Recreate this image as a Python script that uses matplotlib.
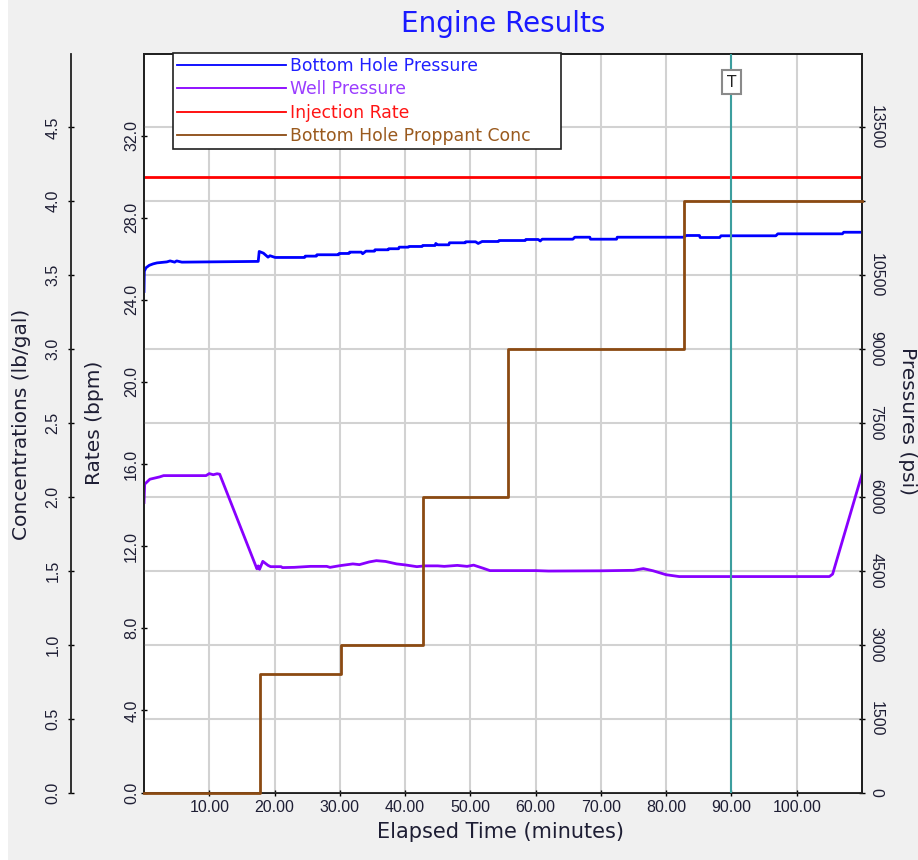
import matplotlib
matplotlib.use("Agg")
import matplotlib.pyplot as plt
from matplotlib.lines import Line2D
from matplotlib.patches import Rectangle

# ---- data -------------------------------------------------------------
# Bottom hole pressure (psi) vs elapsed time (min)
bhp_time = [0.0, 0.05, 0.3, 0.8, 1.4, 2.0, 3.5, 4.0, 4.7, 5.0, 5.8, 17.5, 17.65,
            18.3, 19.0, 19.3, 20.1, 24.6, 24.7, 26.4, 26.5, 29.8, 29.9, 31.4,
            31.5, 33.3, 33.5, 34.0, 35.3, 35.4, 37.4, 37.5, 39.0, 39.1, 40.5,
            40.6, 42.6, 42.7, 44.6, 44.7, 45.0, 46.7, 46.8, 49.2, 49.3, 50.8,
            51.2, 51.8, 54.3, 54.4, 58.4, 58.5, 60.4, 60.7, 61.0, 65.7, 66.0,
            68.3, 68.4, 72.4, 72.5, 82.6, 83.1, 85.1, 85.2, 88.2, 88.4, 96.8,
            97.1, 107.0, 107.2, 110.0]
bhp_psi = [10170, 10580, 10650, 10700, 10730, 10750, 10770, 10790, 10765, 10790,
           10765, 10780, 10982, 10947, 10866, 10895, 10860, 10860, 10887, 10887,
           10915, 10915, 10941, 10941, 10968, 10968, 10935, 10988, 10988, 11016,
           11016, 11037, 11037, 11069, 11069, 11083, 11083, 11103, 11103, 11144,
           11117, 11117, 11158, 11158, 11178, 11178, 11144, 11184, 11184, 11204,
           11204, 11225, 11225, 11194, 11231, 11231, 11271, 11271, 11231, 11231,
           11271, 11271, 11306, 11306, 11265, 11265, 11300, 11300, 11340, 11340,
           11372, 11372]

# Well (surface) pressure (psi)
wp_time = [0.0, 0.1, 0.9, 2.4, 3.0, 9.5, 10.0, 10.6, 11.2, 11.6, 17.3, 17.5, 17.7,
           18.2, 19.0, 19.4, 21.0, 21.2, 23.0, 25.5, 28.0, 28.5, 30.0, 32.0, 33.0,
           34.5, 35.6, 37.0, 38.7, 40.0, 41.8, 43.0, 45.0, 46.0, 48.0, 49.5, 50.5,
           52.0, 53.0, 60.0, 62.0, 70.0, 75.0, 76.5, 78.0, 80.0, 82.0, 105.0,
           105.5, 110.0]
wp_psi = [5886, 6258, 6359, 6406, 6432, 6432, 6473, 6450, 6470, 6460, 4540, 4600,
          4530, 4692, 4610, 4584, 4584, 4565, 4570, 4590, 4590, 4570, 4604, 4640,
          4625, 4680, 4706, 4690, 4640, 4620, 4584, 4600, 4600, 4590, 4610, 4590,
          4615, 4550, 4504, 4504, 4495, 4500, 4510, 4545, 4500, 4420, 4383, 4383,
          4433, 6462]

# Injection rate (bpm)
rate_time = [0.0, 110.0]
rate_bpm = [30.0, 30.0]

# Bottom hole proppant concentration stages (lb/gal), step-post
stage_start = [0.0, 17.7, 30.2, 42.7, 55.7, 82.7, 110.0]
stage_conc = [0.0, 0.8, 1.0, 2.0, 3.0, 4.0, 4.0]

marker_time = 90.0

x_ticks = [10, 20, 30, 40, 50, 60, 70, 80, 90, 100]
rate_ticks = [0, 4, 8, 12, 16, 20, 24, 28, 32]
conc_ticks = [0.0, 0.5, 1.0, 1.5, 2.0, 2.5, 3.0, 3.5, 4.0, 4.5]
psi_ticks = [0, 1500, 3000, 4500, 6000, 7500, 9000, 10500, 12000, 13500]
psi_labels = ["0", "1500", "3000", "4500", "6000", "7500", "9000", "10500", "", "13500"]

# ---- styling ----------------------------------------------------------
W, H = 918, 860
BG = "#f0f0f0"
TXT = "#1e1e34"
TICK_FONT = "Liberation Sans"
LABEL_FONT = "DejaVu Sans"

c_bhp = "#0000ff"
c_wp = "#8800ff"
c_rate = "#ff0000"
c_conc = "#8b4a12"
c_mark = "#3c9e9e"

fig = plt.figure(figsize=(W / 100, H / 100), dpi=100, facecolor=BG)
fig.patches.append(Rectangle((0, 0), 8 / W, 1, transform=fig.transFigure,
                             facecolor="white", edgecolor="none", zorder=-1))

left_px, right_px, top_px, bottom_px = 144, 862, 53.5, 792.5
rect = [left_px / W, 1 - bottom_px / H, (right_px - left_px) / W,
        (bottom_px - top_px) / H]

ax_rate = fig.add_axes(rect)
ax_rate.set_facecolor("white")
ax_psi = ax_rate.twinx()
ax_conc = ax_rate.twinx()
for a in (ax_psi, ax_conc):
    a.patch.set_visible(False)

# x axis
ax_rate.set_xlim(0, 110)
ax_rate.set_xticks(x_ticks)
ax_rate.set_xticklabels([f"{v:.2f}" for v in x_ticks], fontfamily=TICK_FONT,
                        fontsize=11.5, color=TXT)
ax_rate.tick_params(axis="x", direction="inout", length=5, width=1, pad=3)
ax_rate.grid(axis="x", color="#d2d2d2", linewidth=1.5)
ax_rate.set_axisbelow(True)

# rate axis (inner left)
ax_rate.set_ylim(0, 36)
ax_rate.set_yticks(rate_ticks)
ax_rate.set_yticklabels([f"{v:.1f}" for v in rate_ticks], fontfamily=TICK_FONT,
                        fontsize=11.5, color=TXT, rotation=90, va="center")
ax_rate.tick_params(axis="y", direction="inout", length=5, width=1, pad=1)

# pressure axis (right)
ax_psi.set_ylim(0, 15000)
ax_psi.set_yticks(psi_ticks)
ax_psi.set_yticklabels(psi_labels, fontfamily=TICK_FONT, fontsize=11.5,
                       color=TXT, rotation=-90, va="center")
ax_psi.tick_params(axis="y", direction="inout", length=5, width=1, pad=2)
ax_psi.grid(axis="y", color="#d2d2d2", linewidth=1.5)
ax_psi.set_axisbelow(True)

# concentration axis (outer left)
ax_conc.set_ylim(0, 5)
ax_conc.spines["left"].set_position(("outward", 73 * 0.72))
ax_conc.spines["left"].set_visible(True)
ax_conc.yaxis.set_ticks_position("left")
ax_conc.set_yticks(conc_ticks)
ax_conc.set_yticklabels([f"{v:.1f}" for v in conc_ticks], fontfamily=TICK_FONT,
                        fontsize=11.5, color=TXT, rotation=90, va="center")
ax_conc.tick_params(axis="y", direction="inout", length=5, width=1, pad=5)
for s in ("right", "top", "bottom"):
    ax_conc.spines[s].set_visible(False)

for a in (ax_rate, ax_psi, ax_conc):
    for s in a.spines.values():
        s.set_linewidth(1.3)
        s.set_color("#202020")

# ---- series -------------------------------------------------------------
ln_rate, = ax_rate.plot(rate_time, rate_bpm, color=c_rate, lw=2.0,
                        label="Injection Rate")
ln_bhp, = ax_psi.plot(bhp_time, bhp_psi, color=c_bhp, lw=2.0,
                      label="Bottom Hole Pressure")
ln_wp, = ax_psi.plot(wp_time, wp_psi, color=c_wp, lw=2.0, label="Well Pressure")
ln_conc, = ax_conc.plot(stage_start, stage_conc, color=c_conc, lw=2.0,
                        drawstyle="steps-post", clip_on=False,
                        label="Bottom Hole Proppant Conc")

ax_conc.axvline(marker_time, color=c_mark, lw=1.5, zorder=3)
ax_conc.text(marker_time, 0.961, "T", transform=ax_conc.get_xaxis_transform(),
             ha="center", va="center", fontsize=11, fontfamily=LABEL_FONT,
             color="#202020", zorder=5,
             bbox=dict(boxstyle="square,pad=0.3", facecolor="white",
                       edgecolor="#8a8a8a", linewidth=1.5))

# ---- legend -------------------------------------------------------------
handles = [ln_bhp, ln_wp, ln_rate, ln_conc]
leg_colors = ["#2020ff", "#9a3cff", "#ff1414", "#9a5a1e"]
leg = ax_conc.legend(handles=[Line2D([], [], color=h.get_color(), lw=1.3)
                              for h in handles],
                     labels=[h.get_label() for h in handles],
                     loc="upper left",
                     bbox_to_anchor=(173 / W, 1 - 53 / H - 0.01, 388 / W, 0.01),
                     bbox_transform=fig.transFigure, mode="expand",
                     borderaxespad=0, fancybox=False, framealpha=1,
                     edgecolor="#202020", handlelength=6.3, handletextpad=0.25,
                     borderpad=0.25, labelspacing=0.3,
                     prop={"family": LABEL_FONT, "size": 12.4})
leg.get_frame().set_linewidth(1.2)
for t, c in zip(leg.get_texts(), leg_colors):
    t.set_color(c)
leg.set_zorder(10)

# ---- titles and axis labels --------------------------------------------
fig.text(503 / W, 1 - 24 / H, "Engine Results", ha="center", va="center",
         fontsize=20, color="#1a1aff", fontfamily=LABEL_FONT)
fig.text(501 / W, 1 - 832 / H, "Elapsed Time (minutes)", ha="center",
         va="center", fontsize=15, color=TXT, fontfamily=LABEL_FONT)
fig.text(22 / W, 1 - 424 / H, "Concentrations (lb/gal)", ha="center",
         va="center", rotation=90, fontsize=14.5, color=TXT,
         fontfamily=LABEL_FONT)
fig.text(95 / W, 1 - 423 / H, "Rates (bpm)", ha="center", va="center",
         rotation=90, fontsize=14.5, color=TXT, fontfamily=LABEL_FONT)
fig.text(907 / W, 1 - 421 / H, "Pressures (psi)", ha="center", va="center",
         rotation=-90, fontsize=14.5, color=TXT, fontfamily=LABEL_FONT)

fig.savefig("out.png", dpi=100, facecolor=BG)
